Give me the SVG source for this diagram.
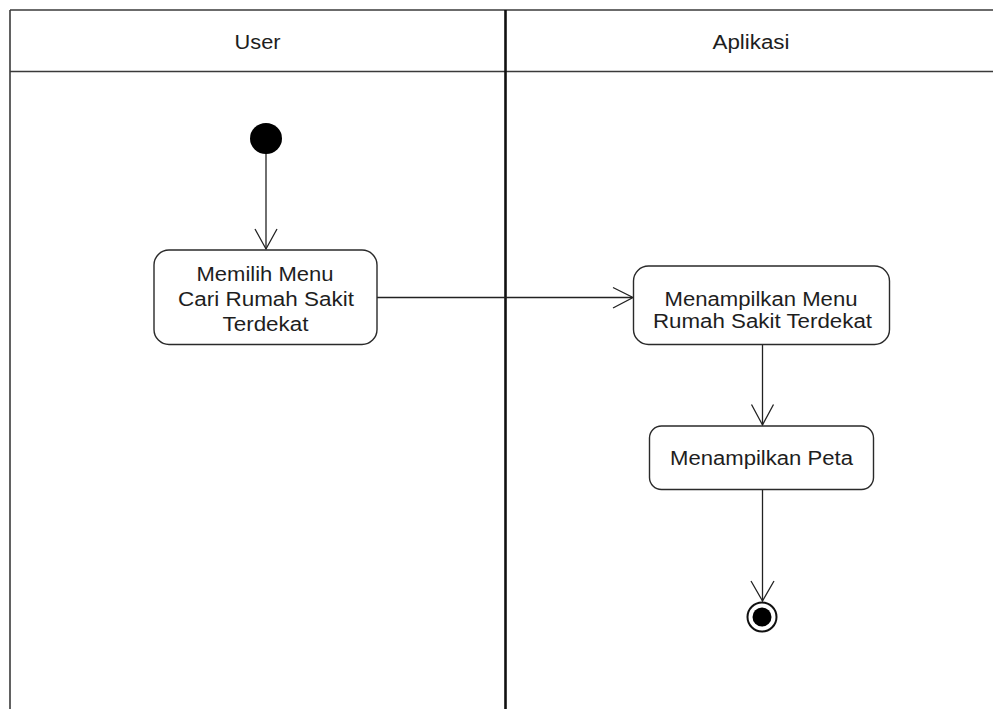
<svg xmlns="http://www.w3.org/2000/svg" width="993" height="709" viewBox="0 0 993 709">
  <style>
    .lane { fill: none; stroke: #3a3a3a; stroke-width: 1.6; }
    .divider { fill: none; stroke: #111; stroke-width: 2.6; }
    .action { fill: #fff; stroke: #2a2a2a; stroke-width: 1.4; }
    .flow { fill: none; stroke: #222; stroke-width: 1.3; }
    .head { fill: none; stroke: #222; stroke-width: 1.3; stroke-linejoin: miter; }
    text { font-family: "Liberation Sans", Arial, sans-serif; font-size: 19.5px; fill: #1e1e1e; text-anchor: middle; }
  </style>
  <rect x="0" y="0" width="993" height="709" fill="#fff"/>

  <!-- swimlane frame -->
  <g id="swimlanes">
    <line class="lane" x1="10" y1="10" x2="993" y2="10"/>
    <line class="lane" x1="10" y1="71.5" x2="993" y2="71.5"/>
    <line class="lane" x1="10" y1="10" x2="10" y2="709"/>
    <line class="divider" x1="505.5" y1="10" x2="505.5" y2="709"/>
    <text x="257.5" y="49" textLength="46" lengthAdjust="spacingAndGlyphs">User</text>
    <text x="751" y="49" textLength="77" lengthAdjust="spacingAndGlyphs">Aplikasi</text>
  </g>

  <!-- control flows -->
  <g id="connectors">
    <line class="flow" x1="266" y1="153" x2="266" y2="249"/>
    <polyline class="head" points="255,229 266,249 277,229"/>
    <line class="flow" x1="377" y1="297.5" x2="632" y2="297.5"/>
    <polyline class="head" points="613,287.5 633,297.5 613,308"/>
    <line class="flow" x1="762.5" y1="344" x2="762.5" y2="425"/>
    <polyline class="head" points="751.5,404.5 762.5,425 773.5,404.5"/>
    <line class="flow" x1="762.5" y1="489" x2="762.5" y2="601"/>
    <polyline class="head" points="751,581 762.5,601 774,581"/>
  </g>

  <g id="start">
    <ellipse cx="266" cy="138.5" rx="16" ry="15.5" fill="#000"/>
  </g>

  <g id="pilih-menu">
    <rect class="action" x="154" y="250" width="223" height="94.5" rx="15" ry="15"/>
    <text x="265" y="281" textLength="137" lengthAdjust="spacingAndGlyphs">Memilih Menu</text>
    <text x="266" y="305.5" textLength="176" lengthAdjust="spacingAndGlyphs">Cari Rumah Sakit</text>
    <text x="265.5" y="330.5" textLength="86" lengthAdjust="spacingAndGlyphs">Terdekat</text>
  </g>

  <g id="tampil-menu">
    <rect class="action" x="633.5" y="266" width="256" height="78.5" rx="15" ry="15"/>
    <text x="761" y="305.5" textLength="193" lengthAdjust="spacingAndGlyphs">Menampilkan Menu</text>
    <text x="762.5" y="328" textLength="219" lengthAdjust="spacingAndGlyphs">Rumah Sakit Terdekat</text>
  </g>

  <g id="tampil-peta">
    <rect class="action" x="649.5" y="426" width="224" height="63.5" rx="12" ry="12"/>
    <text x="761.5" y="465" textLength="183" lengthAdjust="spacingAndGlyphs">Menampilkan Peta</text>
  </g>

  <g id="end">
    <circle cx="762" cy="617" r="14.5" fill="#fff" stroke="#111" stroke-width="2"/>
    <circle cx="762" cy="617" r="9.5" fill="#000"/>
  </g>
</svg>
